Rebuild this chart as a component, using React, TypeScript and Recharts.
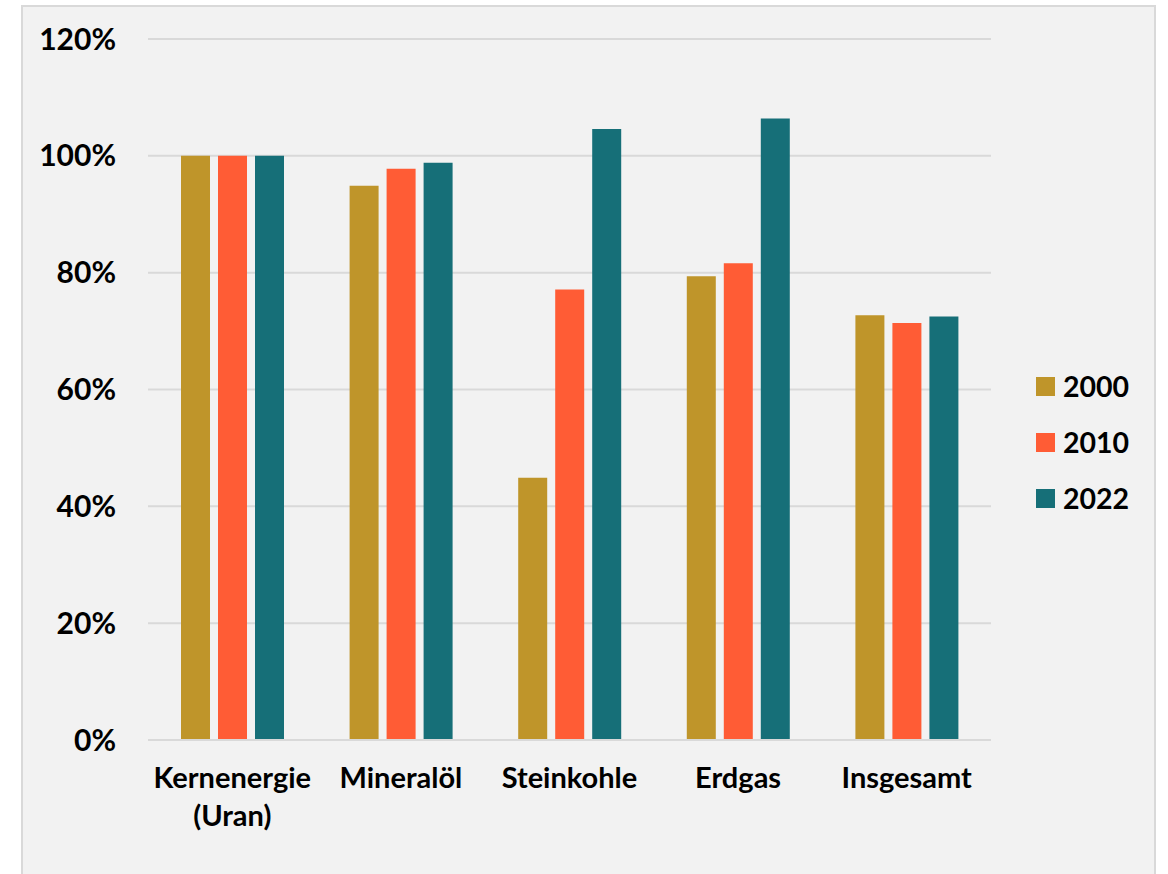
import React from "react";
import { BarChart, Bar, XAxis, YAxis, CartesianGrid } from "recharts";

const categories = ["Kernenergie (Uran)", "Mineralöl", "Steinkohle", "Erdgas", "Insgesamt"];
const years = ["2000", "2010", "2022"];
const values2000 = [100, 94.9, 44.9, 79.4, 72.7];
const values2010 = [100, 97.8, 77.1, 81.6, 71.4];
const values2022 = [100, 98.8, 104.6, 106.4, 72.5];
const colors = ["#BF952A", "#FF5C35", "#166F78"];
const yTicks = [0, 20, 40, 60, 80, 100, 120];

const data = categories.map((c, i) => ({
  name: c,
  "2000": values2000[i],
  "2010": values2010[i],
  "2022": values2022[i],
}));

const FONT = "Lato, 'Open Sans', sans-serif";

const XTick = (props: any) => {
  const { x, y, payload } = props;
  const lines = String(payload.value).split(" ");
  return (
    <g>
      {lines.map((l: string, i: number) => (
        <text
          key={i}
          x={x}
          y={y + 48 + i * 37.5}
          textAnchor="middle"
          fontFamily={FONT}
          fontWeight={700}
          fontSize={29}
          fill="#000"
        >
          {l}
        </text>
      ))}
    </g>
  );
};

export default function App() {
  return (
    <div>
      <div
        style={{
          position: "absolute",
          left: 21,
          top: 5,
          width: 1135,
          height: 869,
          boxSizing: "border-box",
          border: "2px solid #d9d9d9",
          borderBottom: "none",
          background: "#f2f2f2",
        }}
      />
      <div style={{ position: "absolute", left: 0, top: 0, width: 1168, height: 874 }}>
        <BarChart
          width={1168}
          height={874}
          data={data}
          margin={{ top: 39, right: 177, bottom: 34, left: 0 }}
          barSize={29}
          barGap={8}
        >
          <CartesianGrid vertical={false} stroke="#d9d9d9" strokeWidth={2} />
          <XAxis
            dataKey="name"
            height={100}
            tickLine={false}
            tickSize={0}
            tickMargin={0}
            axisLine={{ stroke: "#d9d9d9", strokeWidth: 2 }}
            tick={<XTick />}
            interval={0}
          />
          <YAxis
            width={148}
            domain={[0, 120]}
            ticks={yTicks}
            tickFormatter={(v: number) => `${v}%`}
            axisLine={false}
            tickLine={false}
            tickSize={0}
            tickMargin={32}
            tick={{ fontFamily: FONT, fontWeight: 700, fontSize: 30, fill: "#000" }}
          />
          {years.map((y, i) => (
            <Bar key={y} dataKey={y} fill={colors[i]} isAnimationActive={false} />
          ))}
        </BarChart>
      </div>
      <div style={{ position: "absolute", left: 1036, top: 358, fontFamily: FONT }}>
        {years.map((y, i) => (
          <div key={y} style={{ display: "flex", alignItems: "center", height: 56 }}>
            <div style={{ width: 19, height: 19, background: colors[i], marginRight: 8 }} />
            <span style={{ fontWeight: 700, fontSize: 28.5, color: "#000" }}>{y}</span>
          </div>
        ))}
      </div>
    </div>
  );
}
